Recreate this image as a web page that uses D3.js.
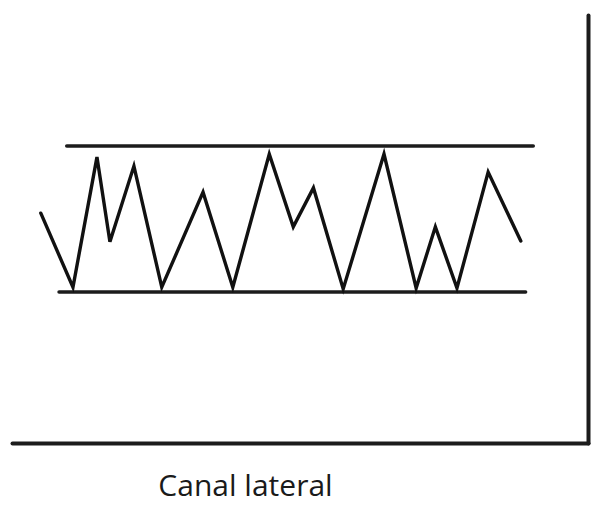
<!DOCTYPE html>
<html>
<head>
<meta charset="utf-8">
<script src="https://cdn.jsdelivr.net/npm/d3@7"></script>
<style>
  html, body { margin: 0; padding: 0; background: #fff; }
  svg { display: block; }
</style>
</head>
<body>
<svg id="chart" width="597" height="508"></svg>
<script>
// Price path (time index, price level).
const times  = [3.0, 6.35, 8.85, 10.2, 12.7, 15.6, 19.9, 23.0, 26.8, 29.3, 31.4, 34.5, 38.75, 42.1, 44.1, 46.35, 49.6, 53.0];
const prices = [53.7, 36.4, 66.8, 47.0, 64.7, 36.4, 58.6, 36.4, 67.5, 50.5, 59.6, 36.0, 67.5, 36.2, 50.5, 36.2, 63.3, 47.2];

// Channel lines: [startTime, endTime, level]
const resistance = [5.7, 54.3, 69.4];
const support    = [4.9, 53.5, 35.3];

const xDomain = [0, 60];
const yDomain = [0, 100];
const caption = "Canal lateral";

// Layout
const specs = {
    left: 12,
    right: 588,
    top: 15,
    bottom: 443,
    ink: "#1c1c1c"
};

const svg = d3.select("#chart");

const x = d3.scaleLinear().domain(xDomain).range([specs.left, specs.right]);
const y = d3.scaleLinear().domain(yDomain).range([specs.bottom, specs.top]);

// Axes drawn as bare domain lines, no ticks.
const xAxis = d3.axisBottom(x).tickValues([]).tickSizeOuter(0);
const yAxis = d3.axisRight(y).tickValues([]).tickSizeOuter(0);

const gX = svg.append("g")
    .attr("transform", `translate(0,${y(0)})`)
    .call(xAxis);
const gY = svg.append("g")
    .attr("transform", `translate(${x(xDomain[1])},0)`)
    .call(yAxis);

[gX, gY].forEach(g => g.select(".domain")
    .attr("stroke", specs.ink)
    .attr("stroke-width", 4)
    .attr("stroke-linecap", "round"));

// Support and resistance lines
const channel = svg.append("g");
[resistance, support].forEach(c => {
    channel.append("line")
        .attr("x1", x(c[0]))
        .attr("x2", x(c[1]))
        .attr("y1", y(c[2]))
        .attr("y2", y(c[2]))
        .attr("stroke", specs.ink)
        .attr("stroke-width", 3.5)
        .attr("stroke-linecap", "round");
});

// Zigzag price line
const pts = times.map((t, i) => ({t: t, p: prices[i]}));
const line = d3.line()
    .x(d => x(d.t))
    .y(d => y(d.p));

svg.append("path")
    .datum(pts)
    .attr("d", line)
    .attr("fill", "none")
    .attr("stroke", "#111")
    .attr("stroke-width", 3.4)
    .attr("stroke-linejoin", "miter")
    .attr("stroke-linecap", "round");

// Caption
svg.append("text")
    .attr("x", 245.5)
    .attr("y", 496)
    .attr("text-anchor", "middle")
    .attr("font-family", "'Open Sans', 'Noto Sans', sans-serif")
    .attr("font-size", 30)
    .attr("fill", "#1a1a1a")
    .text(caption);
</script>
</body>
</html>
